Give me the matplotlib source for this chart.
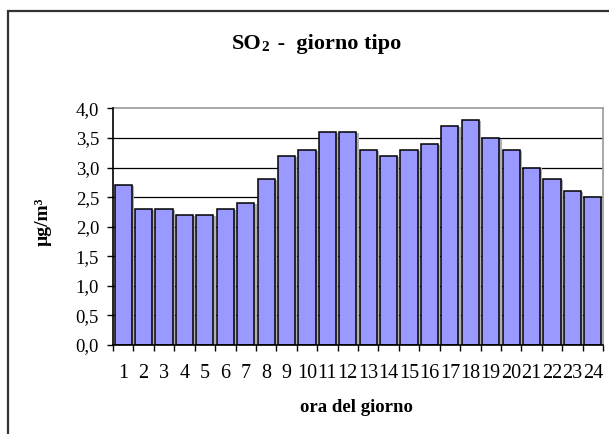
import matplotlib
matplotlib.use('Agg')
import matplotlib.pyplot as plt
import matplotlib.patheffects as pe
from matplotlib.patches import Rectangle
from matplotlib.ticker import FuncFormatter, MultipleLocator, FixedLocator

# data: SO2 average by hour of day
hours = list(range(1, 25))
so2 = [2.7, 2.3, 2.3, 2.2, 2.2, 2.3, 2.4, 2.8, 3.2, 3.3, 3.6, 3.6,
       3.3, 3.2, 3.3, 3.4, 3.7, 3.8, 3.5, 3.3, 3.0, 2.8, 2.6, 2.5]
hour_labels = [str(h) for h in hours]

plt.rcParams['font.family'] = ['Liberation Serif', 'DejaVu Serif']

fig = plt.figure(figsize=(6.09, 4.34), dpi=100)
W, H = 609.0, 434.0

# outer chart frame (clipped at right/bottom like the source)
fig.patches.append(Rectangle((8 / W, -0.05), 1.1, 1 - 11 / H + 0.05,
                             transform=fig.transFigure, fill=False,
                             edgecolor='#333333', lw=1.6))

ax = fig.add_axes([113 / W, 1 - 345 / H, (603 - 113) / W, (345 - 108.5) / H])

shadow = [pe.SimplePatchShadow(offset=(1.6, -0.6), shadow_rgbFace='#b0b0b0', alpha=1.0),
          pe.Normal()]
bars = ax.bar(hours, so2, width=0.84, color='#9999FF', edgecolor='black',
              linewidth=1.1, zorder=3)
for b in bars:
    b.set_path_effects(shadow)

ax.set_xlim(0.5, 24.5)
ax.set_ylim(0, 4.0)
ax.yaxis.set_major_locator(MultipleLocator(0.5))
ax.yaxis.set_major_formatter(FuncFormatter(lambda v, p: ('%.1f' % v).replace('.', ',')))
ax.set_xticks(hours)
ax.set_xticklabels(hour_labels)
ax.xaxis.set_minor_locator(FixedLocator([h + 0.5 for h in range(0, 25)]))

ax.tick_params(axis='x', which='major', length=0, pad=14, labelsize=14.5)
ax.tick_params(axis='x', which='minor', length=4, width=1, direction='out')
ax.tick_params(axis='y', length=4, width=1, direction='out', pad=6, labelsize=13.5)

for yv in [0.5, 1.0, 1.5, 2.0, 2.5, 3.0, 3.5]:
    ax.axhline(yv, color='black', lw=0.9, zorder=1)

for s in ['top', 'right']:
    ax.spines[s].set_color('#999999')
    ax.spines[s].set_linewidth(1.2)
for s in ['left', 'bottom']:
    ax.spines[s].set_color('black')
    ax.spines[s].set_linewidth(1.2)
    ax.spines[s].set_zorder(4)

# title: SO + small 2 + rest
t1 = fig.text(232 / W, 1 - 49 / H, 'SO', fontsize=16, fontweight='bold',
              ha='left', va='baseline')
t2 = ax.annotate('2', xy=(1, 0), xycoords=t1, fontsize=11, fontweight='bold',
                 ha='left', va='bottom', annotation_clip=False)
ax.annotate(' -  giorno tipo', xy=(1, 0), xycoords=t1, xytext=(7.5, 0),
            textcoords='offset points', fontsize=16, fontweight='bold',
            ha='left', va='bottom', annotation_clip=False)

fig.text(43 / W, 1 - 222 / H, 'µg/m³', rotation=90, fontsize=14,
         fontweight='bold', ha='center', va='center')
fig.text(356 / W, 1 - 408 / H, 'ora del giorno', fontsize=13.5,
         fontweight='bold', ha='center', va='center')

fig.savefig('out.png', dpi=100)
